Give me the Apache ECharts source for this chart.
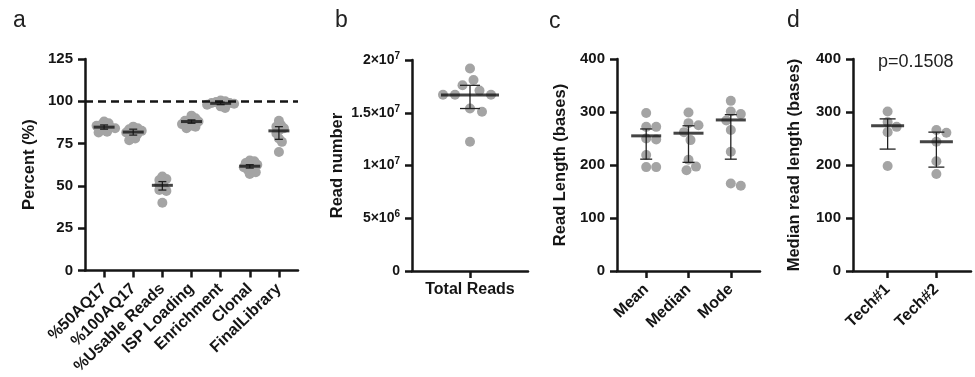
<!DOCTYPE html>
<html><head><meta charset="utf-8">
<script src="https://cdn.jsdelivr.net/npm/echarts@6/dist/echarts.min.js"></script>
<style>html,body{margin:0;padding:0;background:#fff}#c{width:975px;height:377px}</style>
</head><body><div id="c"></div><script>
// ---------- Panel a ----------
const catsA = ['%50AQ17','%100AQ17','%Usable Reads','ISP Loading','Enrichment','Clonal','FinalLibrary'];
const valsA = [
  [88, 87, 86, 85.5, 85, 84.5, 84, 83, 82, 81.5],
  [85, 84, 83.5, 82.5, 82, 81.5, 80.5, 79.5, 78, 77],
  [55.5, 54, 53.5, 52, 50.5, 49, 47.5, 47, 40],
  [91.5, 90, 89, 88.5, 88, 87.5, 86.5, 85.5, 85, 84],
  [100.5, 100, 99.5, 99, 99, 98.5, 98, 97, 96],
  [65, 64.5, 63.5, 62.5, 62, 61, 60, 59.5, 58, 57],
  [88.5, 86, 85, 84, 83, 81, 78, 76, 70]
];
const centerA = [84.7, 81.8, 50.3, 88, 98.8, 61.6, 82.5];
const errLoA = [83.5, 80, 47.5, 87, 98, 60.5, 77.5];
const errHiA = [86, 83.5, 52.5, 89, 99.5, 62.5, 85];
const refLineA = 100;
const ticksA = [0, 25, 50, 75, 100, 125];

// ---------- Panel b ----------
const catsB = ['Total Reads'];
const valsB = [[1.92e7, 1.81e7, 1.76e7, 1.71e7, 1.67e7, 1.67e7, 1.67e7, 1.54e7, 1.51e7, 1.225e7]];
const centerB = [1.668e7];
const errLoB = [1.54e7];
const errHiB = [1.76e7];
const ticksB = [0, 5e6, 1e7, 1.5e7, 2e7];
const tickLabelsB = [['0',''], ['5×10','6'], ['1×10','7'], ['1.5×10','7'], ['2×10','7']];

// ---------- Panel c ----------
const catsC = ['Mean', 'Median', 'Mode'];
const valsC = [
  [298, 272, 272, 250, 248, 219, 196, 196],
  [299, 279, 275, 262, 247, 210, 197, 190],
  [321, 301, 296, 284, 266, 225, 165, 161]
];
const centerC = [255, 260, 285];
const errLoC = [211, 205, 211];
const errHiC = [268, 274, 295];
const ticksC = [0, 100, 200, 300, 400];

// ---------- Panel d ----------
const catsD = ['Tech#1', 'Tech#2'];
const valsD = [
  [301, 281, 272, 262, 198],
  [266, 261, 244, 207, 183]
];
const centerD = [274, 244];
const errLoD = [230, 196];
const errHiD = [287, 262];
const ticksD = [0, 100, 200, 300, 400];
const pText = 'p=0.1508';

// ---------- layout / style ----------
const FONT = '"Liberation Sans", Arial, Helvetica, sans-serif';
const INK = '#151515';
const DOT = '#a4a4a4';
const DOT_SIZE = 10;

const panels = [
  {cats: catsA, vals: valsA, center: centerA, lo: errLoA, hi: errHiA, ticks: ticksA,
   grid: {left: 85, top: 59, width: 213, height: 212}, pad: 0.655, max: 125,
   name: 'Percent (%)', nameGap: 47, rotate: 44, meanW: 21, capW: 8, sep: 4.5, ref: refLineA},
  {cats: catsB, vals: valsB, center: centerB, lo: errLoB, hi: errHiB, ticks: ticksB,
   grid: {left: 412, top: 60, width: 116, height: 211}, pad: 1, max: 2e7,
   name: 'Read number', nameGap: 66, rotate: 0, meanW: 58, capW: 20, sep: 12,
   labelFmt: v => { const i = ticksB.indexOf(v); const t = tickLabelsB[i]; return t[1] ? '{m|' + t[0] + '}{s|' + t[1] + '}' : '{m|' + t[0] + '}'; }},
  {cats: catsC, vals: valsC, center: centerC, lo: errLoC, hi: errHiC, ticks: ticksC,
   grid: {left: 617, top: 59, width: 143, height: 212}, pad: 0.69, max: 400,
   name: 'Read Length (bases)', nameGap: 48, rotate: 44, meanW: 30, capW: 12, sep: 10},
  {cats: catsD, vals: valsD, center: centerD, lo: errLoD, hi: errHiD, ticks: ticksD,
   grid: {left: 853, top: 59, width: 118, height: 212}, pad: 0.71, max: 400,
   name: 'Median read length (bases)', nameGap: 50, rotate: 44, meanW: 33, capW: 16, sep: 10}
];

// simple deterministic beeswarm (pixel offsets)
function swarm(vals, pxPerUnit, sep) {
  const order = vals.map((v, i) => i).sort((a, b) => vals[b] - vals[a]);
  const placed = [];
  const off = new Array(vals.length).fill(0);
  order.forEach(i => {
    const y = vals[i] * pxPerUnit;
    for (let k = 0; k < 400; k++) {
      const cand = (k % 2 ? 1 : -1) * Math.ceil(k / 2) * 0.5;
      let ok = true;
      for (const p of placed) {
        const dx = cand - p.x, dy = y - p.y;
        if (dx * dx + dy * dy < sep * sep - 1e-6) { ok = false; break; }
      }
      if (ok) { off[i] = cand; placed.push({x: cand, y}); break; }
    }
  });
  return off;
}

const grids = [], xAxes = [], yAxes = [], series = [];
const axisLineStyle = {color: INK, width: 2.5};

panels.forEach((P, gi) => {
  grids.push(P.grid);
  const n = P.cats.length;
  const idxs = P.cats.map((c, i) => i);
  xAxes.push({
    type: 'value', gridIndex: gi, min: -P.pad, max: n - 1 + P.pad,
    axisLine: {show: true, onZero: false, lineStyle: axisLineStyle},
    axisTick: {show: true, length: 7, lineStyle: axisLineStyle, customValues: idxs},
    axisLabel: {show: true, customValues: idxs, rotate: P.rotate, margin: P.rotate ? 16 : 11,
      formatter: v => P.cats[Math.round(v)], color: INK, fontWeight: 'bold', fontSize: 16, fontFamily: FONT},
    splitLine: {show: false}
  });
  const interval = P.ticks[1] - P.ticks[0];
  const yLabel = {color: INK, fontWeight: 'bold', fontSize: 15, fontFamily: FONT, margin: 12};
  if (P.labelFmt) {
    yLabel.formatter = P.labelFmt;
    yLabel.rich = {
      m: {fontSize: 14, fontWeight: 'bold', color: INK, fontFamily: FONT},
      s: {fontSize: 10, fontWeight: 'bold', color: INK, fontFamily: FONT, padding: [0, 0, 8, 0]}
    };
  }
  yAxes.push({
    type: 'value', gridIndex: gi, min: 0, max: P.max, interval: interval,
    axisLine: {show: true, onZero: false, lineStyle: axisLineStyle},
    axisTick: {show: true, length: 7, lineStyle: axisLineStyle},
    axisLabel: yLabel,
    splitLine: {show: false},
    name: P.name, nameLocation: 'middle', nameGap: P.nameGap,
    nameTextStyle: {fontSize: 16.5, fontWeight: 'bold', color: INK, fontFamily: FONT}
  });

  const pxPerUnit = P.grid.height / P.max;
  const dotData = [];
  P.vals.forEach((arr, ci) => {
    const off = swarm(arr, pxPerUnit, P.sep);
    arr.forEach((v, k) => dotData.push({value: [ci, v], symbolOffset: [off[k], 0]}));
  });
  const dotSeries = {
    type: 'scatter', xAxisIndex: gi, yAxisIndex: gi, symbol: 'circle', symbolSize: DOT_SIZE,
    itemStyle: {color: DOT, opacity: 1}, data: dotData, z: 2, silent: true
  };
  if (P.ref != null) {
    dotSeries.markLine = {
      silent: true, symbol: 'none', label: {show: false},
      lineStyle: {color: INK, width: 2.5, type: [8, 5]},
      data: [{yAxis: P.ref}]
    };
  }
  series.push(dotSeries);

  series.push({
    type: 'custom', xAxisIndex: gi, yAxisIndex: gi, z: 3, silent: true,
    data: idxs.map(i => [i, P.lo[i], P.hi[i]]),
    renderItem: (params, api) => {
      const a = api.coord([api.value(0), api.value(1)]);
      const b = api.coord([api.value(0), api.value(2)]);
      const h = P.capW / 2;
      const st = {stroke: '#222', lineWidth: 1.3};
      return {type: 'group', children: [
        {type: 'line', shape: {x1: a[0], y1: a[1], x2: b[0], y2: b[1]}, style: st},
        {type: 'line', shape: {x1: a[0] - h, y1: a[1], x2: a[0] + h, y2: a[1]}, style: st},
        {type: 'line', shape: {x1: b[0] - h, y1: b[1], x2: b[0] + h, y2: b[1]}, style: st}
      ]};
    }
  });

  series.push({
    type: 'scatter', xAxisIndex: gi, yAxisIndex: gi, symbol: 'rect', symbolSize: [P.meanW, 3],
    itemStyle: {color: INK}, z: 4, silent: true,
    data: idxs.map(i => [i, P.center[i]])
  });
});

const letterStyle = {fontSize: 23, fill: '#222', fontFamily: FONT};
const chart = echarts.init(document.getElementById('c'), null, {renderer: 'canvas'});
chart.setOption({
  animation: false,
  backgroundColor: '#fff',
  textStyle: {fontFamily: FONT},
  grid: grids, xAxis: xAxes, yAxis: yAxes, series: series,
  graphic: [
    {type: 'text', left: 13, top: 9, style: Object.assign({text: 'a'}, letterStyle)},
    {type: 'text', left: 335, top: 9, style: Object.assign({text: 'b'}, letterStyle)},
    {type: 'text', left: 549, top: 10, style: Object.assign({text: 'c'}, letterStyle)},
    {type: 'text', left: 787, top: 9, style: Object.assign({text: 'd'}, letterStyle)},
    {type: 'text', left: 878, top: 53, style: {text: pText, fontSize: 18, fill: '#222', fontFamily: FONT}}
  ]
});
</script></body></html>
